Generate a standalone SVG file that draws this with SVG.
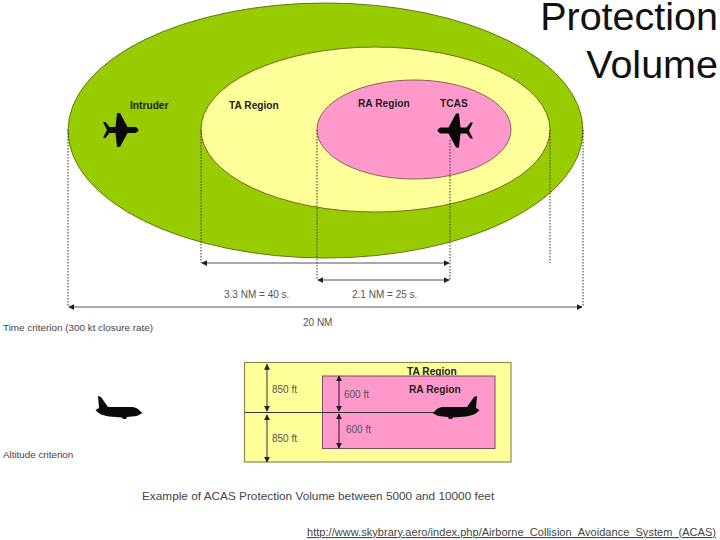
<svg xmlns="http://www.w3.org/2000/svg" width="720" height="540" viewBox="0 0 720 540">
<style>
text{font-family:"Liberation Sans",Arial,sans-serif}
.b{font-size:10.2px;font-weight:bold;fill:#222}
.g{font-size:10px;fill:#555}
.d{fill:none;stroke:#333;stroke-width:1;stroke-dasharray:1.500 1.500}
.a{fill:none;stroke:#555;stroke-width:1.200;marker-start:url(#ah);marker-end:url(#ah)}
.p{fill:#0a0a0a}
</style>
<defs>
<marker id="ah" viewBox="0 0 8 8" refX="7" refY="4" markerWidth="6" markerHeight="6" markerUnits="userSpaceOnUse" orient="auto-start-reverse"><path d="M0 0L8 4L0 8Z" fill="#222"/></marker>
<path id="top" d="M-17.500 -8L-15 -8L-11 -3L-5 -3L-3.500 -17L-0.500 -17L7 -3L15 -3Q18 -1.500 18 0Q18 1.500 15 3L7 3L-0.500 17L-3.500 17L-5 3L-11 3L-15 8L-17.500 8L-13.500 0Z"/>
<path id="side" d="M-21 -10L-18 -9L-11 1L14 1Q19 2 21 5L23.500 7L18 10L8 11L7 13L4 13L3 11.500L-10 10.500Q-20 9 -23.500 4L-20 2Z"/>
</defs>
<g id="protection-zone"><ellipse cx="325.500" cy="130.500" rx="257.500" ry="127.500" fill="#99cc00" stroke="#5a7a10" stroke-width="1"/></g>
<g id="ta-zone"><ellipse cx="375.500" cy="129.500" rx="174.500" ry="82.500" fill="#ffff99" stroke="#6a7020" stroke-width="1"/></g>
<g id="ra-zone"><ellipse cx="414" cy="129.500" rx="97" ry="49.500" fill="#ff99cc" stroke="#8a6060" stroke-width="1"/></g>
<g id="intruder"><use href="#top" x="120.500" y="130" class="p"/><text class="b" x="130" y="109">Intruder</text></g>
<g id="tcas"><use href="#top" transform="translate(455.500 130.500) scale(-1 1)" class="p"/><text class="b" x="440" y="107">TCAS</text></g>
<g id="connectors">
<path class="d" d="M68 130V306M583 130V306M201 130V263M550 130V263M317 130V280M450 140V280"/>
<path class="a" d="M202 263H449"/>
<path class="a" d="M318 280H449"/>
<path class="a" d="M69 307H582"/>
</g>
<g id="labels">
<text class="b" x="229" y="109">TA Region</text>
<text class="b" x="358" y="107">RA Region</text>
<text class="g" x="224" y="298">3.3 NM = 40 s.</text>
<text class="g" x="352" y="298">2.1 NM = 25 s.</text>
<text class="g" x="303" y="326">20 NM</text>
<text x="3" y="331" font-size="9.900" fill="#444">Time criterion (300 kt closure rate)</text>
<text x="3" y="458" font-size="9.800" fill="#444">Altitude criterion</text>
<text x="142" y="500" font-size="11.800" fill="#444">Example of ACAS Protection Volume between 5000 and 10000 feet</text>
</g>
<g id="ta-box"><rect x="244.500" y="362.500" width="266.500" height="99.500" fill="#ffff99" stroke="#8a8a50" stroke-width="1.200"/><text class="b" x="407" y="375">TA Region</text></g>
<g id="ra-box"><rect x="322.500" y="376" width="172.500" height="72.500" fill="#ff99cc" stroke="#7a5060" stroke-width="1"/><text class="b" x="409" y="393">RA Region</text></g>
<g id="altitude">
<path d="M245 412.500H440" fill="none" stroke="#333" stroke-width="1"/>
<path d="M267 364.500V411" fill="none" stroke="#333" stroke-width="1" marker-start="url(#ah)" marker-end="url(#ah)"/>
<path d="M267 415V462" fill="none" stroke="#333" stroke-width="1" marker-start="url(#ah)" marker-end="url(#ah)"/>
<path d="M339 376V411" fill="none" stroke="#663355" stroke-width="1.400" marker-start="url(#ah)" marker-end="url(#ah)"/>
<path d="M339 414V448" fill="none" stroke="#663355" stroke-width="1.400" marker-start="url(#ah)" marker-end="url(#ah)"/>
<text class="g" x="272" y="393">850 ft</text>
<text class="g" x="344" y="398">600 ft</text>
<text class="g" x="346" y="433">600 ft</text>
<text class="g" x="272" y="442">850 ft</text>
</g>
<g id="aircraft-left"><use href="#side" x="119" y="406" class="p"/></g>
<g id="aircraft-right"><use href="#side" transform="translate(456 406) scale(-1 1)" class="p"/></g>
<g id="title" font-size="39.500" fill="#111" text-anchor="end"><text x="718" y="30">Protection</text><text x="718" y="78">Volume</text></g>
<g id="source"><text x="307" y="536" font-size="11" textLength="409" fill="#444" style="text-decoration:underline;text-decoration-color:#1a8a80">http://www.skybrary.aero/index.php/Airborne_Collision_Avoidance_System_(ACAS)</text></g>
</svg>
